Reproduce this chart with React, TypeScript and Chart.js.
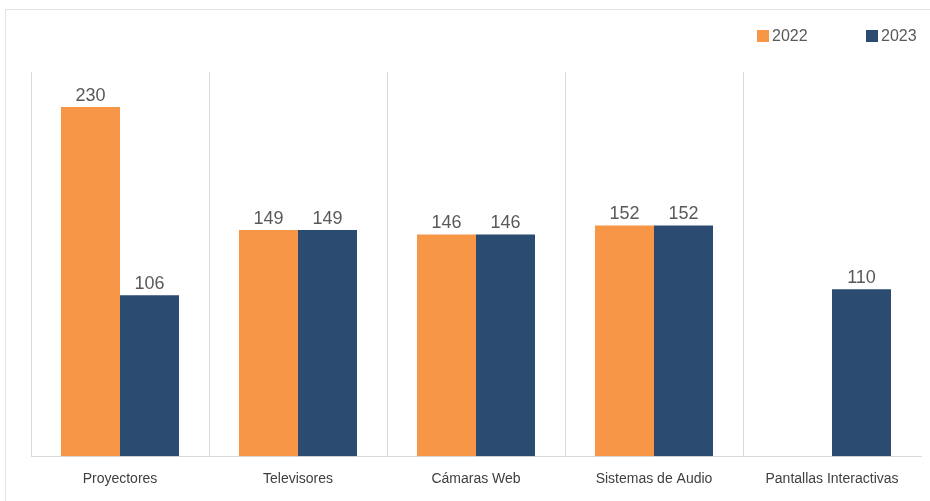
import React, { useEffect, useRef } from "react";
import { Chart, registerables } from "chart.js";

Chart.register(...registerables);

const categories = ["Proyectores", "Televisores", "Cámaras Web", "Sistemas de Audio", "Pantallas Interactivas"];
const series2022: (number | null)[] = [230, 149, 146, 152, null];
const series2023: (number | null)[] = [106, 149, 146, 152, 110];
const seriesNames = ["2022", "2023"];
const colors = ["#F79646", "#2B4B70"];

const borderPlugin = {
  id: "outerBorder",
  beforeDraw(chart: any) {
    const ctx = chart.ctx;
    ctx.save();
    ctx.fillStyle = "#ffffff";
    ctx.fillRect(0, 0, chart.width, chart.height);
    ctx.strokeStyle = "#e3e3e3";
    ctx.lineWidth = 1;
    ctx.strokeRect(5.5, 9.5, chart.width + 20, chart.height + 20);
    ctx.restore();
  },
};

const dataLabelPlugin = {
  id: "dataLabels",
  afterDatasetsDraw(chart: any) {
    const ctx = chart.ctx;
    ctx.save();
    ctx.font = "18px 'Liberation Sans', Arial, sans-serif";
    ctx.fillStyle = "#595959";
    ctx.textAlign = "center";
    ctx.textBaseline = "alphabetic";
    chart.data.datasets.forEach((ds: any, di: number) => {
      const meta = chart.getDatasetMeta(di);
      meta.data.forEach((bar: any, i: number) => {
        const v = ds.data[i];
        if (v === null || v === undefined) return;
        ctx.fillText(String(v), bar.x, bar.y - 6);
      });
    });
    ctx.restore();
  },
};

const legendPlugin = {
  id: "customLegend",
  afterDraw(chart: any) {
    const ctx = chart.ctx;
    ctx.save();
    ctx.font = "16px 'Liberation Sans', Arial, sans-serif";
    ctx.textBaseline = "middle";
    ctx.textAlign = "left";
    const starts = [757, 866];
    const y = 36;
    seriesNames.forEach((name, i) => {
      ctx.fillStyle = colors[i];
      ctx.fillRect(starts[i], y - 6, 12, 12);
      ctx.fillStyle = "#595959";
      ctx.fillText(name, starts[i] + 15, y + 1);
    });
    ctx.restore();
  },
};

export default function App() {
  const ref = useRef<HTMLCanvasElement>(null);
  useEffect(() => {
    if (!ref.current) return;
    const chart = new Chart(ref.current, {
      type: "bar",
      data: {
        labels: categories,
        datasets: [
          { label: seriesNames[0], data: series2022, backgroundColor: colors[0], barPercentage: 1, categoryPercentage: 0.663 },
          { label: seriesNames[1], data: series2023, backgroundColor: colors[1], barPercentage: 1, categoryPercentage: 0.663 },
        ],
      },
      options: {
        responsive: false,
        animation: false,
        layout: { padding: { top: 72, left: 31, right: 9, bottom: -2 } },
        plugins: {
          legend: { display: false },
          tooltip: { enabled: false },
        },
        scales: {
          x: {
            grid: {
              offset: true,
              drawTicks: false,
              color: (c: any) =>
                c.type !== "tick" || c.index === undefined || c.index >= categories.length
                  ? "rgba(0,0,0,0)"
                  : "#d9d9d9",
            },
            border: { display: true, color: "#d9d9d9" },
            ticks: {
              color: "#404040",
              padding: 15,
              font: { family: "'Liberation Sans', Arial, sans-serif", size: 14 },
            },
          },
          y: {
            display: false,
            min: 0,
            max: 253,
          },
        },
      },
      plugins: [borderPlugin, dataLabelPlugin, legendPlugin],
    });
    return () => chart.destroy();
  }, []);
  return (
    <div style={{ position: "absolute", left: 0, top: 0, width: 930, height: 501 }}>
      <canvas ref={ref} width={930} height={501} />
    </div>
  );
}
